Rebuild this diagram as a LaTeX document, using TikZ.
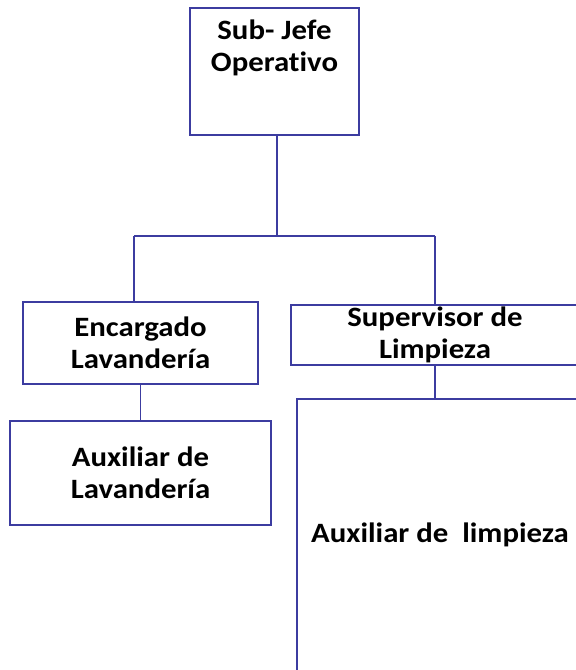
\documentclass[tikz,border=0pt]{standalone}
\usepackage{fontspec}
\setmainfont{Carlito}[FakeStretch=1.1,Ligatures=NoCommon]
\usetikzlibrary{positioning,calc}
\definecolor{orgline}{RGB}{60,60,160}

\begin{document}
\begin{tikzpicture}[
    x=1pt,y=-1pt,
    box/.style={rectangle,draw=orgline,line width=2.6pt,inner sep=0pt,align=center,
      font=\bfseries\fontsize{28}{32}\selectfont},
    txt/.style={inner sep=0pt,align=center,font=\bfseries\fontsize{28}{32}\selectfont},
    link/.style={draw=orgline,line width=1.4pt}
    ]
    \clip (0,0) rectangle (576,670);

    \node[box,minimum width=169,minimum height=127,
      label={[txt,anchor=north,yshift=-13pt]north:{Sub- Jefe\\Operativo}}] (sub) at (274.5,71.5) {};

    \node[box,minimum width=235,minimum height=82] (enc) at (140.5,343) {Encargado\\Lavandería};
    \node[box,minimum width=288,minimum height=60] (sup) at (435,335) {Supervisor de\\Limpieza};

    \node[box,minimum width=261,minimum height=104] (auxlav) at (140.5,473) {Auxiliar de\\Lavandería};
    \node[box,minimum width=286,minimum height=272] (auxlim) at (440,535) {Auxiliar de~ limpieza};

    % conectores
    \coordinate (busM) at (277,236);
    \coordinate (busL) at (134,236);
    \coordinate (busR) at (435,236);

    \draw[link] (busM |- sub.south)--(busM);
    \draw[link] (busL)--(busR);
    \draw[link] (busL)--(busL |- enc.north);
    \draw[link] (busR)--(busR |- sup.north);
    \draw[link] (enc)--(auxlav);
    \draw[link] (sup.south)--(sup.south |- auxlim.north);

  \end{tikzpicture}
\end{document}
